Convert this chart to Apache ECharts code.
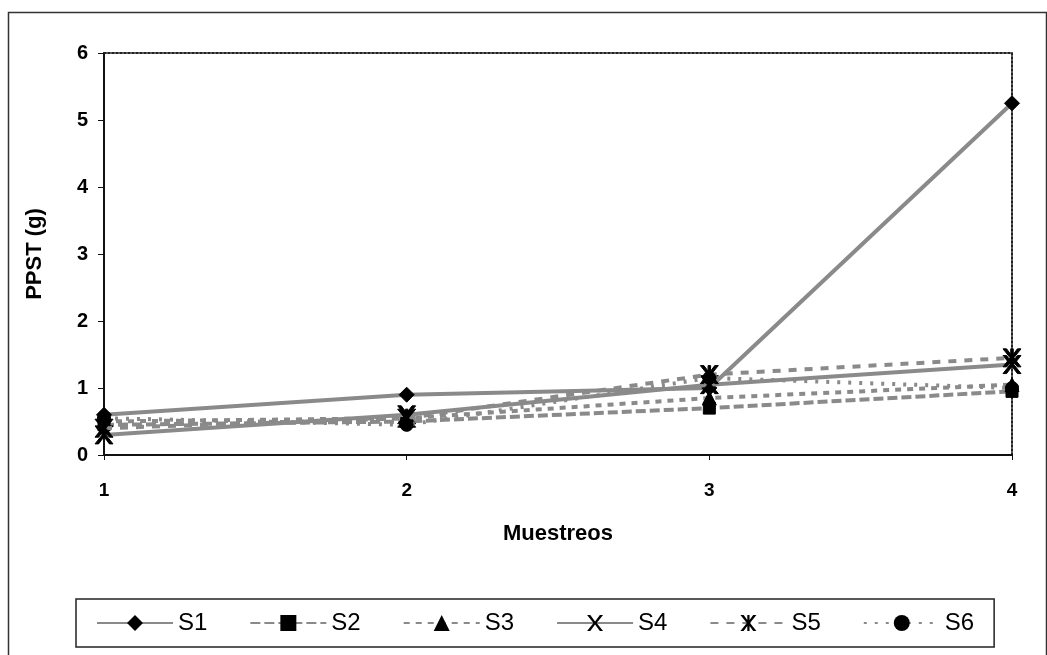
<!DOCTYPE html>
<html><head><meta charset="utf-8">
<script src="https://cdn.jsdelivr.net/npm/echarts@6/dist/echarts.min.js"></script>
<style>html,body{margin:0;padding:0;background:#fff}#c{width:1047px;height:655px}</style>
</head><body><div id="c"></div>
<script>
const categories = ['1', '2', '3', '4'];
const yTicks = [0, 1, 2, 3, 4, 5, 6];
const seriesNames = ['S1', 'S2', 'S3', 'S4', 'S5', 'S6'];
const S1 = [0.6, 0.9, 1.0, 5.25];
const S2 = [0.45, 0.5, 0.7, 0.95];
const S3 = [0.5, 0.55, 0.85, 1.05];
const S4 = [0.3, 0.6, 1.05, 1.35];
const S5 = [0.4, 0.55, 1.2, 1.45];
const S6 = [0.55, 0.45, 1.15, 1.0];
const seriesValues = [S1, S2, S3, S4, S5, S6];

const X_PATH = 'path://M0,0 L2,0 L5,4 L8,0 L10,0 L6,5 L10,10 L8,10 L5,6 L2,10 L0,10 L4,5 Z';
const STAR_PATH = 'path://M0,0 L2,0 L5,4 L8,0 L10,0 L6,5 L10,10 L8,10 L5,6 L2,10 L0,10 L4,5 Z M4.3,0 L5.7,0 L5.7,10 L4.3,10 Z';
const symbols = ['diamond', 'rect', 'triangle', X_PATH, STAR_PATH, 'circle'];
const symbolSizes = [15, 12, 14, 18, 18, 13];
const lineTypes = ['solid', [10, 4], [6, 6], 'solid', [8, 8], [3, 8]];

const chart = echarts.init(document.getElementById('c'), null, {renderer: 'canvas'});
const font = 'Liberation Sans, Arial, sans-serif';
const option = {
  backgroundColor: '#fff',
  animation: false,
  graphic: [{
    type: 'rect', left: 6, top: 10,
    shape: {width: 1038, height: 650},
    style: {fill: 'none', stroke: '#333', lineWidth: 1.5}
  }],
  grid: {left: 104, top: 53, right: 35, bottom: 200},
  legend: {
    left: 76, top: 599,
    padding: [12, 20, 12, 20],
    borderColor: '#222', borderWidth: 1.5,
    itemWidth: 76, itemHeight: 20, itemGap: 42,
    textStyle: {fontFamily: font, fontSize: 24, color: '#000'},
    data: seriesNames
  },
  xAxis: [{
    type: 'category', data: categories, boundaryGap: false,
    name: 'Muestreos', nameLocation: 'middle', nameGap: 68,
    nameTextStyle: {fontFamily: font, fontWeight: 'bold', fontSize: 22, color: '#000'},
    axisLine: {lineStyle: {color: '#111', width: 2}},
    axisTick: {show: true, length: 5, alignWithLabel: true, lineStyle: {color: '#111'}},
    axisLabel: {fontFamily: font, fontWeight: 'bold', fontSize: 19, color: '#000', margin: 26}
  }, {
    type: 'category', data: categories, boundaryGap: false, position: 'top',
    axisLine: {show: true, onZero: false, lineStyle: {color: '#222', width: 2, type: [2, 2]}},
    axisTick: {show: false}, axisLabel: {show: false}
  }],
  yAxis: [{
    type: 'value', min: 0, max: 6, interval: 1,
    name: 'PPST (g)', nameLocation: 'middle', nameGap: 58,
    nameTextStyle: {fontFamily: font, fontWeight: 'bold', fontSize: 22, color: '#000'},
    axisLine: {show: true, lineStyle: {color: '#111', width: 2}},
    axisTick: {show: true, length: 6, lineStyle: {color: '#111'}},
    splitLine: {show: false},
    axisLabel: {fontFamily: font, fontWeight: 'bold', fontSize: 20, color: '#000', margin: 16,
      formatter: v => yTicks.includes(v) ? String(v) : ''}
  }, {
    type: 'value', min: 0, max: 6, interval: 1, position: 'right',
    axisLine: {show: true, onZero: false, lineStyle: {color: '#222', width: 2, type: [2, 2]}},
    axisTick: {show: false}, axisLabel: {show: false}, splitLine: {show: false}
  }],
  series: seriesNames.map((n, i) => ({
    name: n, type: 'line', data: seriesValues[i],
    symbol: symbols[i], symbolSize: symbolSizes[i], showAllSymbol: true,
    lineStyle: {color: '#8a8a8a', width: 4, type: lineTypes[i]},
    itemStyle: {color: '#000', borderColor: '#000'},
    z: 2 + i
  }))
};
chart.setOption(option);
</script></body></html>
